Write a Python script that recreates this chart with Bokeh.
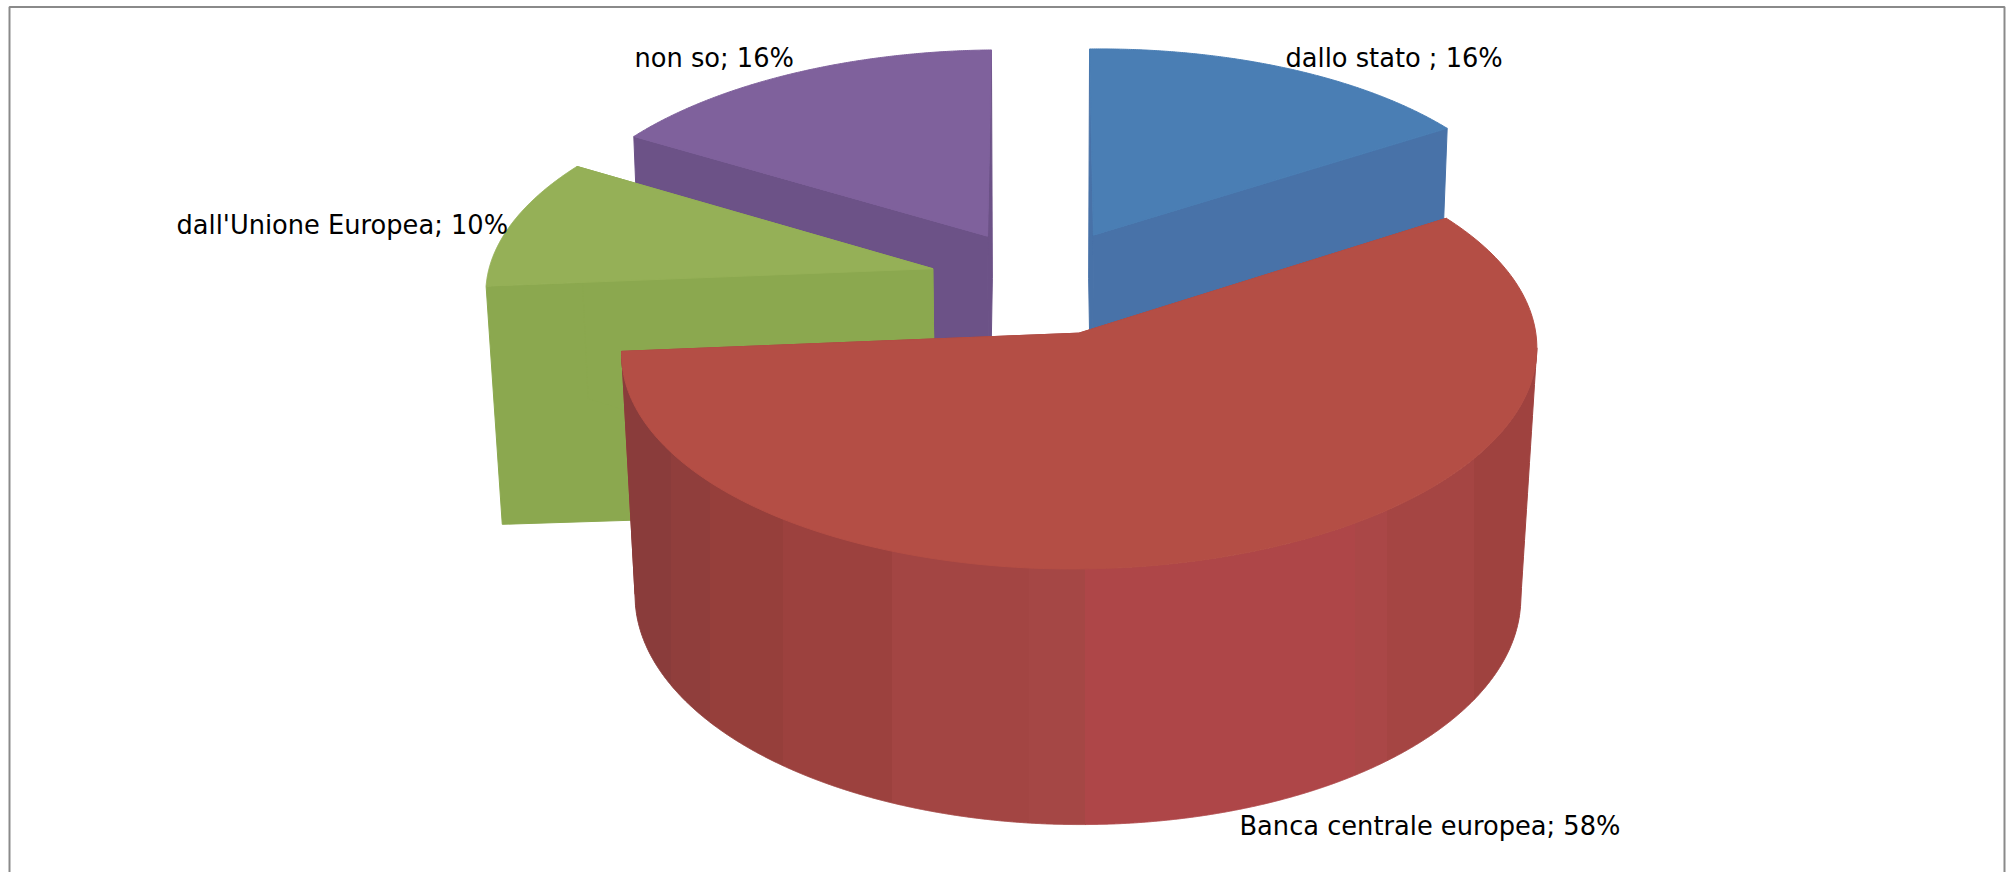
import numpy as np
from bokeh.embed import file_html
from bokeh.resources import INLINE
from bokeh.plotting import figure
from bokeh.models import Range1d
from bokeh.core.properties import value

# --- chart data (clockwise from 12 o'clock) ---
categories = ["dallo stato ", "Banca centrale europea", "dall'Unione Europea", "non so"]
shares = [16, 58, 10, 16]
top_colors = ["#4a7eb4", "#b44e45", "#95b057", "#7f619c"]
wall_colors = ["#4872a8", "#a34543", "#8ba84f", "#6c5287"]
label_x = [1285, 1239, 176, 634]
label_y = [57, 825, 224, 57]

# red outer wall shading bands (right edge in px, colour)
band_edges = [671, 710, 783, 892, 1029, 1085, 1355, 1387, 1474, 3000]
band_colors = ["#8a3c3b", "#903e3c", "#963f3b", "#9c413e", "#a34543", "#a54745",
               "#ae4648", "#aa4747", "#a54543", "#9f423f"]

# --- projection parameters ---
CX, CY = 1040.0, 280.0
A, B, H = 447.0, 208.0, 251.0
K0, K1, J = 0.08, 0.0727, 0.03
SKEW = -0.01
EXPLODE = 0.25
NUDGE_U = [0.0, 0.007, 0.0, 0.0]
NUDGE_V = [0.0, -0.012, 0.0, 0.0]


def proj(u, v, z):
    k = K0 + (K1 - K0) * z
    w = 1 + k * v + J * z
    x = CX + A * u / w
    y = CY + (-B * v + H * z) / w + SKEW * (1 - z) * (x - CX)
    return x, y


p = figure(width=2014, height=872, output_backend="svg", toolbar_location=None,
           x_range=Range1d(0, 2014), y_range=Range1d(872, 0),
           min_border=0, outline_line_color=None, background_fill_color="white",
           border_fill_color="white")
p.axis.visible = False
p.grid.visible = False

# chart area border (bottom runs past the window)
p.line([9, 9, 2004, 2004], [900, 6.5, 6.5, 900], line_color="#8a8a8a", line_width=2)

fractions = np.array(shares, dtype=float) / sum(shares)
ends = np.cumsum(fractions) * 2 * np.pi
starts = ends - fractions * 2 * np.pi
slices = []
for i in range(len(shares)):
    mid = (starts[i] + ends[i]) / 2
    slices.append((i, starts[i], ends[i],
                   EXPLODE * np.sin(mid) + NUDGE_U[i], EXPLODE * np.cos(mid) + NUDGE_V[i]))


def radial_wall(i, theta, u0, v0):
    u, v = u0 + np.sin(theta), v0 + np.cos(theta)
    xa, ya = proj(u0, v0, 0)
    xb, yb = proj(u, v, 0)
    xc, yc = proj(u, v, 1)
    xd, yd = proj(u0, v0, 1)
    p.patch([xa, xb, xc, xd], [ya, yb, yc, yd], fill_color=wall_colors[i],
            line_color=wall_colors[i], line_width=1)


def red_outer_wall(t0, t1, u0, v0):
    ts = np.linspace(t1, t0, 1500)  # left corner to the right, along the near arc
    tx, ty = proj(u0 + np.sin(ts), v0 + np.cos(ts), 0)
    bx, by = proj(u0 + np.sin(ts), v0 + np.cos(ts), 1)
    it, ib = int(np.argmax(tx)), int(np.argmax(bx))
    tx, ty = tx[:it + 1], ty[:it + 1]
    lb, bx, by = int(np.argmin(bx)), bx[:ib + 1], by[:ib + 1]
    bx, by = bx[lb:], by[lb:]
    bx = np.r_[tx[0], bx, tx[-1]]
    by = np.r_[ty[0], by, ty[-1]]
    left = tx[0]
    for edge, col in zip(band_edges, band_colors):
        right = min(edge, tx[-1])
        if right > left:
            xs = np.r_[left, np.arange(np.ceil(left), right), right]
            p.patch(np.r_[xs, xs[::-1]],
                    np.r_[np.interp(xs, tx, ty), np.interp(xs, bx, by)[::-1]],
                    fill_color=col, line_color=col, line_width=1)
        left = max(left, edge)


def top_face(i, t0, t1, u0, v0):
    ts = np.linspace(t0, t1, 200)
    xs, ys = proj(u0 + np.sin(ts), v0 + np.cos(ts), 0)
    xa, ya = proj(u0, v0, 0)
    p.patch(np.r_[xa, xs], np.r_[ya, ys], fill_color=top_colors[i],
            line_color=top_colors[i], line_width=1)


# painter's order: far slices first, red in front
for idx in [3, 0, 2, 1]:
    i, t0, t1, u0, v0 = slices[idx]
    radial_wall(i, t0, u0, v0)
    radial_wall(i, t1, u0, v0)
    if i == 1:
        red_outer_wall(t0, t1, u0, v0)
    top_face(i, t0, t1, u0, v0)

labels = [f"{c}; {s}%" for c, s in zip(categories, shares)]
p.text(x=label_x, y=label_y, text=labels, text_font=value("DejaVu Sans"),
       text_font_size="25.7px", text_color="black", text_baseline="alphabetic", text_align="left")

open("out.html", "w").write(file_html(p, INLINE))
